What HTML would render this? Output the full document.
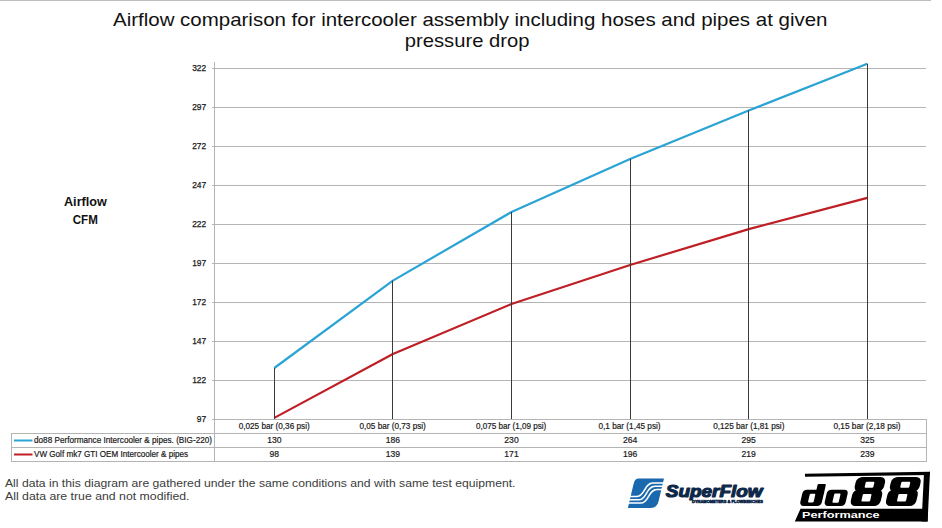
<!DOCTYPE html>
<html><head><meta charset="utf-8">
<style>
html,body{margin:0;padding:0;background:#fff;width:942px;height:528px;overflow:hidden}
svg{display:block}
text{font-family:"Liberation Sans",sans-serif}
</style></head>
<body>
<svg width="942" height="528" viewBox="0 0 942 528">
<rect x="0" y="0" width="942" height="528" fill="#fff"/>
<!-- top border -->
<line x1="0" y1="0.5" x2="931" y2="0.5" stroke="#bdbdbd" stroke-width="1"/>

<!-- title -->
<g fill="#111" font-size="18.6">
<text x="113" y="25.5" textLength="714.5" lengthAdjust="spacingAndGlyphs">Airflow comparison for intercooler assembly including hoses and pipes at given</text>
<text x="404.8" y="46.5" textLength="124.6" lengthAdjust="spacingAndGlyphs">pressure drop</text>
</g>

<!-- y axis label -->
<g fill="#111" font-size="12.8" font-weight="bold">
<text x="64" y="205.6" textLength="42.8" lengthAdjust="spacingAndGlyphs">Airflow</text>
<text x="72.7" y="223.6" textLength="25.1" lengthAdjust="spacingAndGlyphs">CFM</text>
</g>

<!-- gridlines -->
<g stroke="#b4b4b4" stroke-width="1">
<line x1="212" y1="68.5" x2="926" y2="68.5"/>
<line x1="212" y1="107.5" x2="926" y2="107.5"/>
<line x1="212" y1="146.5" x2="926" y2="146.5"/>
<line x1="212" y1="185.5" x2="926" y2="185.5"/>
<line x1="212" y1="224.5" x2="926" y2="224.5"/>
<line x1="212" y1="263.5" x2="926" y2="263.5"/>
<line x1="212" y1="302.5" x2="926" y2="302.5"/>
<line x1="212" y1="341.5" x2="926" y2="341.5"/>
<line x1="212" y1="380.5" x2="926" y2="380.5"/>
<line x1="212" y1="419.5" x2="926" y2="419.5"/>
<!-- y axis -->
<line x1="214.5" y1="62" x2="214.5" y2="462"/>
<!-- table -->
<line x1="11" y1="433.5" x2="926" y2="433.5"/>
<line x1="11" y1="447.5" x2="926" y2="447.5"/>
<line x1="11" y1="461.5" x2="926" y2="461.5"/>
<line x1="11.5" y1="433" x2="11.5" y2="462"/>
<line x1="926.5" y1="419" x2="926.5" y2="462"/>
</g>

<!-- y labels -->
<g fill="#1a1a1a" stroke="#1a1a1a" stroke-width="0.25" font-size="8.4" text-anchor="end">
<text x="206.2" y="71.3">322</text>
<text x="206.2" y="110.3">297</text>
<text x="206.2" y="149.3">272</text>
<text x="206.2" y="188.3">247</text>
<text x="206.2" y="227.3">222</text>
<text x="206.2" y="266.3">197</text>
<text x="206.2" y="305.3">172</text>
<text x="206.2" y="344.3">147</text>
<text x="206.2" y="383.3">122</text>
<text x="206.2" y="422.3">97</text>
</g>

<!-- series -->
<polyline fill="none" stroke="#2aa3d5" stroke-width="2.2" stroke-linejoin="round" points="274.3,368.0 392.9,280.6 511.5,212.0 630.1,158.9 748.7,110.5 867.3,63.7"/>
<polyline fill="none" stroke="#c01e25" stroke-width="2.2" stroke-linejoin="round" points="274.3,417.9 392.9,354.0 511.5,304.0 630.1,265.0 748.7,229.1 867.3,197.9"/>

<!-- drop lines -->
<g stroke="#3a3a3a" stroke-width="1">
<line x1="274.5" y1="368" x2="274.5" y2="419"/>
<line x1="392.5" y1="280.6" x2="392.5" y2="419"/>
<line x1="511.5" y1="212" x2="511.5" y2="419"/>
<line x1="630.5" y1="158.9" x2="630.5" y2="419"/>
<line x1="748.5" y1="110.5" x2="748.5" y2="419"/>
<line x1="867.5" y1="63.7" x2="867.5" y2="419"/>
</g>

<!-- categories -->
<g fill="#1a1a1a" stroke="#1a1a1a" stroke-width="0.2" font-size="8.6">
<text x="238.7" y="429.3" textLength="71.0" lengthAdjust="spacingAndGlyphs">0,025 bar (0,36 psi)</text>
<text x="359.5" y="429.3" textLength="66.3" lengthAdjust="spacingAndGlyphs">0,05 bar (0,73 psi)</text>
<text x="475.9" y="429.3" textLength="70.4" lengthAdjust="spacingAndGlyphs">0,075 bar (1,09 psi)</text>
<text x="598.5" y="429.3" textLength="62.1" lengthAdjust="spacingAndGlyphs">0,1 bar (1,45 psi)</text>
<text x="713.2" y="429.3" textLength="71.2" lengthAdjust="spacingAndGlyphs">0,125 bar (1,81 psi)</text>
<text x="833.4" y="429.3" textLength="67.2" lengthAdjust="spacingAndGlyphs">0,15 bar (2,18 psi)</text>
</g>
<g fill="#1a1a1a" stroke="#1a1a1a" stroke-width="0.2" font-size="8.6" text-anchor="middle">
<text x="274.3" y="443.2">130</text>
<text x="392.9" y="443.2">186</text>
<text x="511.5" y="443.2">230</text>
<text x="630.1" y="443.2">264</text>
<text x="748.7" y="443.2">295</text>
<text x="867.3" y="443.2">325</text>
<text x="274.3" y="457.2">98</text>
<text x="392.9" y="457.2">139</text>
<text x="511.5" y="457.2">171</text>
<text x="630.1" y="457.2">196</text>
<text x="748.7" y="457.2">219</text>
<text x="867.3" y="457.2">239</text>
</g>
<!-- legend -->
<line x1="14" y1="440.5" x2="32.5" y2="440.5" stroke="#2aa3d5" stroke-width="2"/>
<line x1="14" y1="454.5" x2="32.5" y2="454.5" stroke="#c01e25" stroke-width="2"/>
<g fill="#1a1a1a" stroke="#1a1a1a" stroke-width="0.2" font-size="8.6">
<text x="34" y="443.2" textLength="178" lengthAdjust="spacingAndGlyphs">do88 Performance Intercooler &amp; pipes. (BIG-220)</text>
<text x="34" y="457.2" textLength="154" lengthAdjust="spacingAndGlyphs">VW Golf mk7 GTI OEM Intercooler &amp; pipes</text>
</g>

<!-- footer -->
<g fill="#3c3c3c" font-size="10.3">
<text x="5" y="486.6" textLength="510.5" lengthAdjust="spacingAndGlyphs">All data in this diagram are gathered under the same conditions and with same test equipment.</text>
<text x="5" y="499.9" textLength="184.5" lengthAdjust="spacingAndGlyphs">All data are true and not modified.</text>
</g>

<!-- superflow logo -->
<g>
<path d="M638,478.6 L664,478.6 L658.5,501.5 Q657,507.9 651,507.9 L627.9,507.9 L633.2,485.5 Q634.5,478.6 638,478.6 Z" fill="#1a68ad"/>
<g fill="none" stroke="#fff" stroke-width="1.5">
<path d="M627,496.4 L637,496.4 C645,496.4 644,483.1 653,483.1 L665,483.1"/>
<path d="M626,499.8 L639,499.8 C647,499.8 646,486.3 655,486.3 L665,486.3"/>
<path d="M625,503.1 L641,503.1 C649,503.1 648,489.4 657,489.4 L665,489.4"/>
</g>
<text x="665.8" y="497" font-size="16" font-weight="bold" font-style="italic" fill="#0d2848" stroke="#0d2848" stroke-width="1.1" stroke-linejoin="round" textLength="96.8" lengthAdjust="spacingAndGlyphs">SuperFlow</text>
<text x="692" y="502.8" font-size="3.8" font-weight="bold" fill="#0d2848" stroke="#0d2848" stroke-width="0.5" textLength="70.8" lengthAdjust="spacingAndGlyphs">DYNAMOMETERS &amp; FLOWBENCHES</text>
</g>

<!-- do88 logo -->
<g fill="#000">
<path d="M805,473.8 L930,471.8 L929.5,475 L805,476.8 Z"/>
<path d="M924,473 L930,471.8 L927.6,521.5 L921.6,521.5 Z"/>
<path d="M800.5,508.8 L928,508.8 L927.6,521.6 L794.8,521.6 Z"/>
</g>
<text x="802" y="518.4" font-size="9.4" font-weight="bold" fill="#fff" textLength="77.6" lengthAdjust="spacingAndGlyphs">Performance</text>
<g transform="matrix(1,0,-0.23,1,116.38,0)">
<g fill="#000">
<rect x="799.4" y="489.7" width="21.6" height="16.3" rx="4"/>
<rect x="812.7" y="484.1" width="8.3" height="10" rx="1.2"/>
<rect x="823.8" y="489.7" width="21" height="16.3" rx="4"/>
<rect x="850.2" y="477" width="29.4" height="14.8" rx="5.5"/>
<rect x="849.6" y="489.4" width="30" height="16.6" rx="5.5"/>
<rect x="885.4" y="477" width="29.8" height="14.8" rx="5.5"/>
<rect x="884.8" y="489.4" width="30.4" height="16.6" rx="5.5"/>
</g>
<g fill="#fff">
<rect x="807.1" y="493.8" width="5.6" height="8.8" rx="1"/>
<rect x="831.5" y="493.4" width="6.3" height="9.4" rx="1"/>
<rect x="860.3" y="481.8" width="8.7" height="6" rx="1"/>
<rect x="860.2" y="494" width="8.7" height="7.5" rx="1"/>
<rect x="895.9" y="481.8" width="9" height="6" rx="1"/>
<rect x="895.8" y="494" width="9" height="7.5" rx="1"/>
</g>
</g>
</svg>
</body></html>
